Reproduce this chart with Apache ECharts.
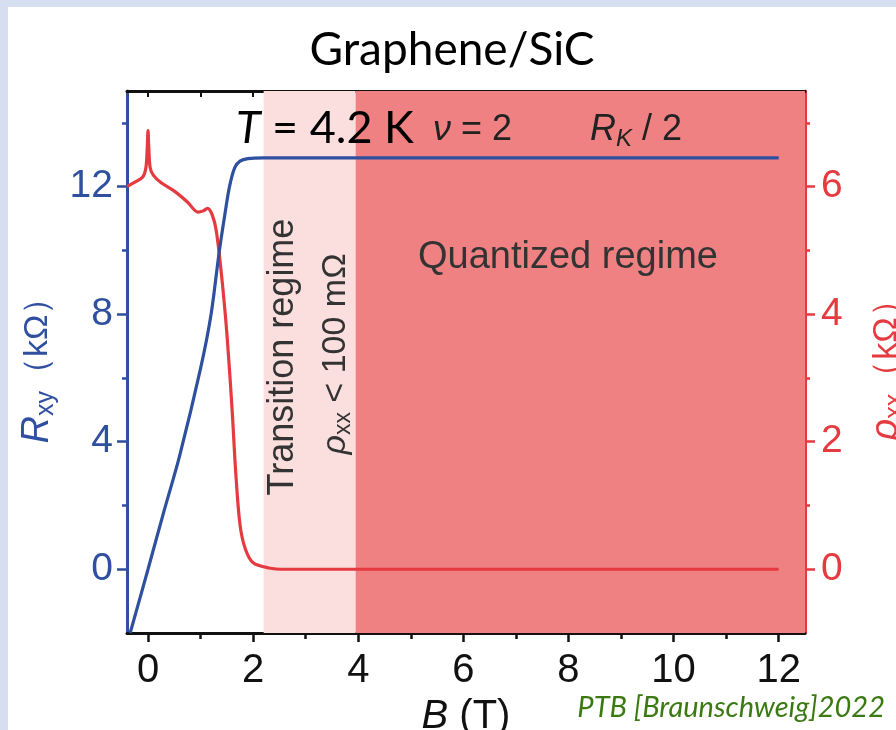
<!DOCTYPE html>
<html>
<head>
<meta charset="utf-8">
<script src="https://cdn.jsdelivr.net/npm/echarts@6/dist/echarts.min.js"></script>
<style>
  html, body { margin: 0; padding: 0; background: #ffffff; }
  #chart { width: 896px; height: 730px; }
</style>
</head>
<body>
<div id="chart"></div>
<script>
// Hall resistance R_xy (kΩ) vs field B (T)
const hallB = [-0.34, 0, 0.3, 0.6, 1.0, 1.2, 1.35, 1.45, 1.55, 1.65, 1.75, 1.9, 2.2, 12];
const hallR = [-2.0, 0, 1.8, 3.55, 6.3, 8.0, 9.9, 11.0, 12.0, 12.6, 12.8, 12.88, 12.9, 12.9];

// longitudinal resistivity rho_xx (kΩ) vs field B (T)
const rhoB = [-0.4, -0.25, -0.1, -0.04, -0.015, 0, 0.015, 0.04, 0.1, 0.25, 0.5, 0.75, 0.95, 1.05, 1.13, 1.22, 1.3, 1.4, 1.5, 1.6, 1.67, 1.75, 1.85, 2.0, 2.3, 2.6, 12];
const rhoXX = [6.0, 6.07, 6.15, 6.3, 6.6, 6.88, 6.6, 6.3, 6.18, 6.06, 5.93, 5.76, 5.6, 5.62, 5.66, 5.56, 5.3, 4.6, 3.7, 2.5, 1.5, 0.7, 0.32, 0.1, 0.02, 0, 0];

// shaded regimes (B in T)
const transitionRange = [2.2, 3.95];
const quantizedRange = [3.95, 12.5];

// tick values
const xMajor = [0, 2, 4, 6, 8, 10, 12];
const xMinor = [1, 3, 5, 7, 9, 11];
const xTop = [0, 1, 2, 3, 4, 5, 6, 7, 8, 9, 10, 11, 12];
const leftMajor = [0, 4, 8, 12];
const leftMinor = [2, 6, 10, 14];
const rightMajor = [0, 2, 4, 6];
const rightMinor = [1, 3, 5, 7];

const BLUE = '#2f4f9f';
const RED = '#e53a3f';
const SANS = 'Liberation Sans';

const chart = echarts.init(document.getElementById('chart'));

const xBase = { type: 'value', min: -0.4, max: 12.5, splitLine: { show: false } };
const yLeftBase = { type: 'value', min: -2, max: 15, position: 'left', splitLine: { show: false } };
const yRightBase = { type: 'value', min: -1, max: 7.5, position: 'right', splitLine: { show: false } };

const option = {
  animation: false,
  backgroundColor: '#ffffff',
  grid: { left: 127, right: 91, top: 91, bottom: 97, containLabel: false, outerBoundsMode: 'none' },
  xAxis: [
    Object.assign({}, xBase, {
      position: 'bottom',
      name: '{i|B} (T)',
      nameLocation: 'middle',
      nameGap: 64,
      nameTextStyle: {
        color: '#111', fontSize: 40, fontFamily: SANS,
        rich: { i: { fontStyle: 'italic', fontSize: 40, fontFamily: SANS, color: '#111' } }
      },
      axisLine: { onZero: false, lineStyle: { color: '#111', width: 3 } },
      axisTick: { length: 9, lineStyle: { color: '#111', width: 2.5 }, customValues: xMajor },
      axisLabel: { color: '#111', fontSize: 40, fontFamily: SANS, margin: 18, customValues: xMajor }
    }),
    Object.assign({}, xBase, {
      position: 'bottom',
      axisLine: { show: false, onZero: false },
      axisTick: { length: 6, lineStyle: { color: '#111', width: 2.5 }, customValues: xMinor },
      axisLabel: { show: false }
    }),
    Object.assign({}, xBase, {
      position: 'top',
      axisLine: { onZero: false, lineStyle: { color: '#111', width: 3 } },
      axisTick: { inside: true, length: 6, lineStyle: { color: '#111', width: 2 }, customValues: xTop },
      axisLabel: { show: false }
    })
  ],
  yAxis: [
    Object.assign({}, yLeftBase, {
      name: '{i|R}{s|xy}{n|（kΩ）}',
      nameLocation: 'middle',
      nameRotate: 90,
      nameGap: 66,
      nameTextStyle: {
        rich: {
          i: { fontStyle: 'italic', fontSize: 38, fontFamily: SANS, color: BLUE },
          s: { fontSize: 25, fontFamily: SANS, color: BLUE, verticalAlign: 'bottom', padding: [18, 0, 0, 0] },
          n: { fontSize: 34, fontFamily: SANS, color: BLUE }
        }
      },
      axisLine: { onZero: false, lineStyle: { color: BLUE, width: 3 } },
      axisTick: { length: 10, lineStyle: { color: BLUE, width: 2.5 }, customValues: leftMajor },
      axisLabel: { color: BLUE, fontSize: 39, fontFamily: SANS, margin: 14, customValues: leftMajor }
    }),
    Object.assign({}, yLeftBase, {
      axisLine: { show: false, onZero: false },
      axisTick: { length: 5, lineStyle: { color: BLUE, width: 2.5 }, customValues: leftMinor },
      axisLabel: { show: false }
    }),
    Object.assign({}, yRightBase, {
      name: '{i|ρ}{s|xx}{n|（kΩ）}',
      nameLocation: 'middle',
      nameRotate: 90,
      nameGap: 60,
      nameTextStyle: {
        rich: {
          i: { fontStyle: 'italic', fontSize: 38, fontFamily: SANS, color: RED },
          s: { fontSize: 25, fontFamily: SANS, color: RED, verticalAlign: 'bottom', padding: [18, 0, 0, 0] },
          n: { fontSize: 34, fontFamily: SANS, color: RED }
        }
      },
      axisLine: { onZero: false, lineStyle: { color: RED, width: 3 } },
      axisTick: { length: 10, lineStyle: { color: RED, width: 2.5 }, customValues: rightMajor },
      axisLabel: { color: RED, fontSize: 39, fontFamily: SANS, margin: 16, customValues: rightMajor }
    }),
    Object.assign({}, yRightBase, {
      axisLine: { show: false, onZero: false },
      axisTick: { length: 5, lineStyle: { color: RED, width: 2.5 }, customValues: rightMinor },
      axisLabel: { show: false }
    })
  ],
  series: [
    {
      type: 'line',
      xAxisIndex: 0,
      yAxisIndex: 2,
      data: rhoB.map((b, i) => [b, rhoXX[i]]),
      showSymbol: false,
      smooth: 0.3,
      lineStyle: { color: RED, width: 3.2 },
      z: 3,
      markArea: {
        silent: true,
        data: [
          [{ xAxis: transitionRange[0], itemStyle: { color: '#fbdede' } }, { xAxis: transitionRange[1] }],
          [{ xAxis: quantizedRange[0], itemStyle: { color: '#f08183' } }, { xAxis: quantizedRange[1] }]
        ]
      }
    },
    {
      type: 'line',
      xAxisIndex: 0,
      yAxisIndex: 0,
      data: hallB.map((b, i) => [b, hallR[i]]),
      showSymbol: false,
      smooth: 0.3,
      lineStyle: { color: BLUE, width: 3.2 },
      z: 4
    }
  ],
  graphic: [
    // slide background strips
    { type: 'rect', left: 0, top: 0, shape: { width: 896, height: 7 }, style: { fill: '#d5dff0' }, silent: true },
    { type: 'rect', left: 0, top: 0, shape: { width: 8, height: 730 }, style: { fill: '#d5dff0' }, silent: true },
    {
      type: 'text', x: 452, y: 50,
      style: { text: 'Graphene/SiC', font: '46px Lato', fill: '#000', align: 'center', verticalAlign: 'middle' }
    },
    {
      type: 'text', x: 236, y: 128, z: 10,
      style: {
        text: '{i|T} = 4.2 K', verticalAlign: 'middle', fill: '#000',
        font: '45px Lato',
        rich: { i: { font: 'italic 45px Lato', fill: '#000' } }
      }
    },
    {
      type: 'text', x: 433, y: 130, z: 10,
      style: {
        text: '{i|ν} = 2', verticalAlign: 'middle', fill: '#222', font: '36px ' + SANS,
        rich: { i: { font: 'italic 36px ' + SANS, fill: '#222' } }
      }
    },
    {
      type: 'text', x: 590, y: 130, z: 10,
      style: {
        text: '{i|R}{s|K} / 2', verticalAlign: 'middle', fill: '#222', font: '36px ' + SANS,
        rich: {
          i: { font: 'italic 36px ' + SANS, fill: '#222' },
          s: { font: 'italic 24px ' + SANS, fill: '#222', padding: [18, 0, 0, 0] }
        }
      }
    },
    {
      type: 'text', x: 568, y: 258, z: 10,
      style: { text: 'Quantized regime', font: '38px ' + SANS, fill: '#333', align: 'center', verticalAlign: 'middle' }
    },
    {
      type: 'text', x: 283, y: 357, rotation: Math.PI / 2, z: 10,
      style: { text: 'Transition regime', font: '36px ' + SANS, fill: '#333', align: 'center', verticalAlign: 'middle' }
    },
    {
      type: 'text', x: 336, y: 354, rotation: Math.PI / 2, z: 10,
      style: {
        text: '{i|ρ}{s|xx} < 100 mΩ', font: '34px ' + SANS, fill: '#333', align: 'center', verticalAlign: 'middle',
        rich: {
          i: { font: 'italic 34px ' + SANS, fill: '#333' },
          s: { font: '23px ' + SANS, fill: '#333', padding: [16, 0, 0, 0] }
        }
      }
    },
    {
      type: 'text', x: 885, y: 708,
      style: { text: 'PTB [Braunschweig]2022', font: 'italic 29px Lato', fill: '#3b7a12', align: 'right', verticalAlign: 'middle' }
    }
  ]
};

chart.setOption(option);
</script>
</body>
</html>
